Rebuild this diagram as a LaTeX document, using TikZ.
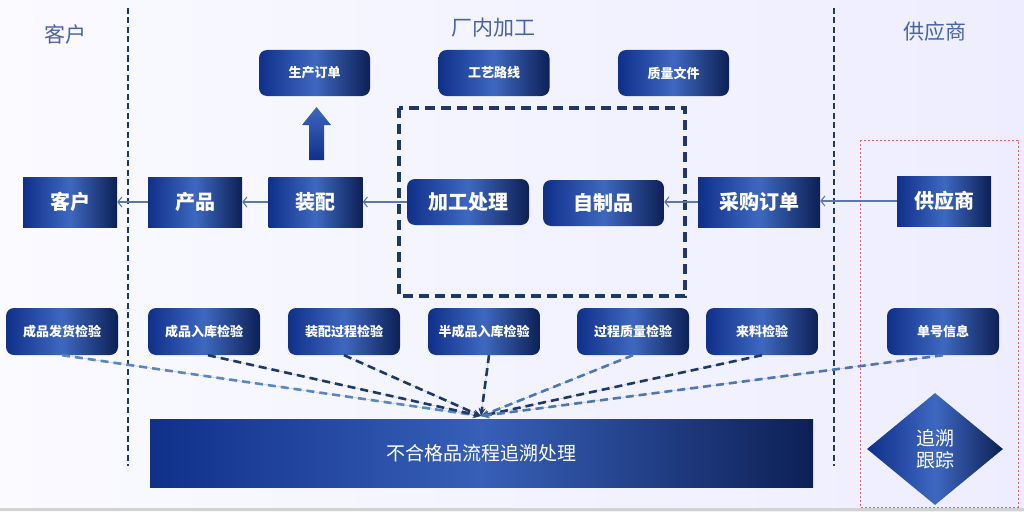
\documentclass[tikz,border=0pt]{standalone}
\usepackage{fontspec}
\setmainfont{Noto Sans CJK SC}
\usetikzlibrary{arrows.meta,shapes.geometric}
\definecolor{boxL}{HTML}{10308A}
\definecolor{boxM}{HTML}{3E68C0}
\definecolor{boxR}{HTML}{0D2056}
\definecolor{headc}{HTML}{4A62A8}
\definecolor{navy}{HTML}{1E3868}
\definecolor{lblue}{HTML}{5A86C2}
\definecolor{thinc}{HTML}{5C78A8}
\definecolor{redd}{HTML}{E06262}
\tikzset{
  shadebox/.style={inner sep=0pt, text=white, left color=boxL, right color=boxR, middle color=boxM},
  sqbox/.style={shadebox, minimum width=94pt, minimum height=50pt, font=\fontsize{20}{22}\selectfont\bfseries},
  rbox/.style={shadebox, rounded corners=8pt, minimum width=122pt, minimum height=46pt, font=\fontsize{20}{22}\selectfont\bfseries},
  topbox/.style={shadebox, rounded corners=8pt, minimum width=111pt, minimum height=46pt, font=\fontsize{13}{15}\selectfont\bfseries},
  insp/.style={shadebox, rounded corners=8pt, minimum width=112pt, minimum height=47pt, font=\fontsize{13}{15}\selectfont\bfseries},
  head/.style={text=headc, font=\fontsize{21}{23}\selectfont},
  thinarrow/.style={draw=thinc, line width=1.1pt, -{Straight Barb[length=4pt,width=10pt]}},
  vline/.style={draw=navy, line width=2.8pt, dash pattern=on 6pt off 3.5pt},
  convd/.style={line width=2.6pt, dash pattern=on 8pt off 5pt, -{Stealth[length=8pt,width=7pt]}},
}
\begin{document}
\begin{tikzpicture}[x=1pt,y=-1pt]
\useasboundingbox (0,0) rectangle (1024,511);
\shade[left color=blue!2!white, right color=blue!7!white] (0,0) rectangle (1024,511);
\fill[gray!35] (0,508) rectangle (1024,511);

% separators
\draw[vline] (128,8) -- (128,466);
\draw[vline] (834,8) -- (834,466);

% headings
\node[head] (h1) at (65,34) {客户};
\node[head] (h2) at (493,28) {厂内加工};
\node[head] (h3) at (935,32) {供应商};

% frames
\draw[navy, line width=3.2pt, dash pattern=on 10pt off 6pt] (399,108) rectangle (685,296);
\draw[redd, line width=0.9pt, dash pattern=on 2pt off 2pt] (860,140) rectangle (1018,507);

% top boxes
\node[topbox] (scdd) at (314.5,73) {生产订单};
\node[topbox] (gylx) at (494,73) {工艺路线};
\node[topbox] (zlwj) at (673.5,73) {质量文件};

% fat up arrow
\shade[bottom color=boxL, top color=boxM] (309,160) -- (309,125) -- (302,125) -- (316.5,107) -- (331,125) -- (324,125) -- (324,160) -- cycle;

% middle row
\node[sqbox] (kh) at (70,202) {客户};
\node[sqbox] (cp) at (195,202) {产品};
\node[sqbox] (zp) at (315.5,202) {装配};
\node[rbox] (jg) at (468,202) {加工处理};
\node[rbox, minimum width=121pt] (zzp) at (603.5,203) {自制品};
\node[sqbox, minimum width=122pt] (cgdd) at (759,202) {采购订单};
\node[sqbox] (gys) at (944,201) {供应商};

\draw[thinarrow] (gys.west) -- (cgdd.east |- gys.west);
\draw[thinarrow] (cgdd.west) -- (zzp.east |- cgdd.west);
\draw[thinarrow] (jg.west) -- (zp.east |- jg.west);
\draw[thinarrow] (zp.west) -- (cp.east);
\draw[thinarrow] (cp.west) -- (kh.east);

% inspection row
\node[insp] (i1) at (62,331.5) {成品发货检验};
\node[insp] (i2) at (204,331.5) {成品入库检验};
\node[insp] (i3) at (344,331.5) {装配过程检验};
\node[insp] (i4) at (484,331.5) {半成品入库检验};
\node[insp] (i5) at (633,331.5) {过程质量检验};
\node[insp] (i6) at (762,331.5) {来料检验};
\node[insp] (i7) at (943,331.5) {单号信息};

% big bar
\node[inner sep=0pt, minimum width=663pt, minimum height=68pt, text=white, left color=boxL, right color=boxR, middle color=boxM!85!boxL, font=\fontsize{19}{21}\selectfont] (bar) at (481.5,453) {不合格品流程追溯处理};

% diamond
\node[diamond, inner sep=0pt, minimum width=136pt, minimum height=112pt, text=white, left color=boxL, right color=boxR, middle color=boxM, align=center, font=\fontsize{19}{22}\selectfont] (zs) at (935,449) {追溯\\跟踪};

% converging dashed arrows
\coordinate (cv) at (481,416);
\draw[convd, draw=lblue, fill=navy] (i1.south) -- (cv);
\draw[convd, draw=navy, fill=navy] ([xshift=4pt]i2.south) -- (cv);
\draw[convd, draw=navy, fill=navy] (i3.south) -- (cv);
\draw[convd, draw=navy, fill=navy] ([xshift=5pt]i4.south) -- (cv);
\draw[convd, draw=lblue!80!navy, fill=navy] (i5.south) -- (cv);
\draw[convd, draw=navy, fill=navy] (i6.south) -- (cv);
\draw[convd, draw=lblue!80!navy, fill=navy] (i7.south) -- (cv);
\end{tikzpicture}
\end{document}
